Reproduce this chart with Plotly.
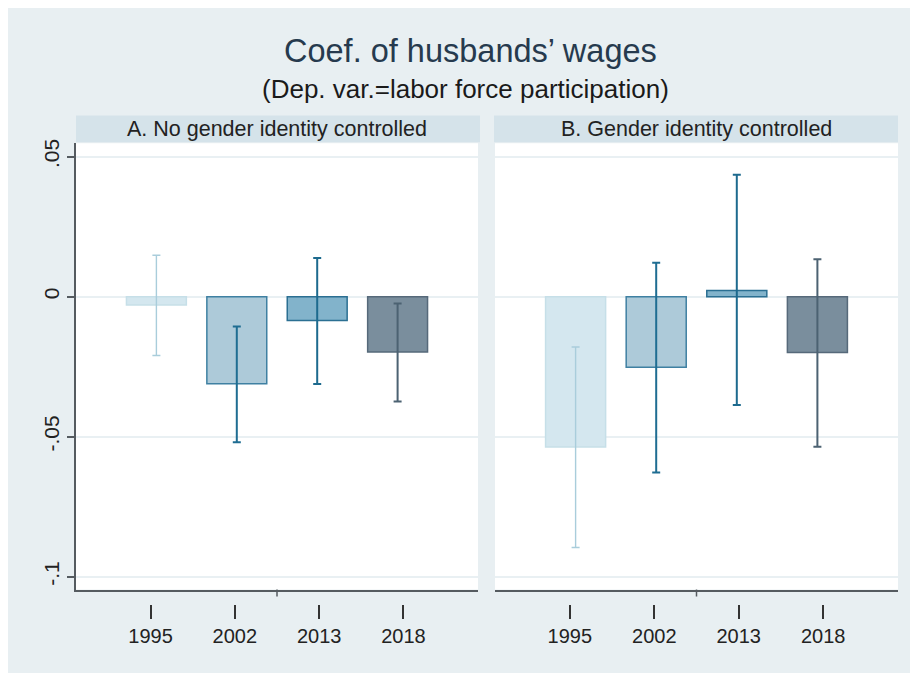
import plotly.graph_objects as go

# ---------------- data ----------------
years = ["1995", "2002", "2013", "2018"]

coef_A = [-0.0030, -0.0311, -0.0085, -0.0198]
lo_A = [-0.0210, -0.0520, -0.0312, -0.0374]
hi_A = [0.0148, -0.0107, 0.0138, -0.0024]

coef_B = [-0.0537, -0.0252, 0.0022, -0.0199]
lo_B = [-0.0896, -0.0628, -0.0387, -0.0536]
hi_B = [-0.0180, 0.0121, 0.0435, 0.0134]

y_tickvals = [0.05, 0, -0.05, -0.1]
y_ticktext = [".05", "0", "-.05", "-.1"]

panel_titles = ["A. No gender identity controlled", "B. Gender identity controlled"]
title_text = "Coef. of husbands\u2019 wages"
subtitle_text = "(Dep. var.=labor force participation)"

# ---------------- styles ----------------
W, H = 918, 673
OFF = 8  # page body margin
fill_cols = ["#d4e7ef", "#adcad9", "#82b3cb", "#7a8e9d"]
line_cols = ["#c6dfe8", "#3f80a2", "#2b6f92", "#56697a"]
err_cols = ["#a9cddb", "#1f6d92", "#1d6a8e", "#4c6272"]
err_thick = [1.4, 2, 2, 2]
bg_col = "#e8eff2"
strip_col = "#d5e3ea"
axis_col = "#555b60"
grid_col = "#e9f0f3"

def px_x(p):
    return (p - OFF) / W

def px_y(p):
    return 1 - (p - OFF) / H

plot_top, plot_bot = 140, 589
left_dom = [px_x(76), px_x(478)]
right_dom = [px_x(495), px_x(898)]
y_dom = [px_y(plot_bot), px_y(plot_top)]
label_pos = px_y(604)

fig = go.Figure()

panels = [
    (coef_A, lo_A, hi_A, "x", "y", "x3"),
    (coef_B, lo_B, hi_B, "x2", "y2", "x4"),
]
for coef, lo, hi, xa, ya, xl in panels:
    for i, yr in enumerate(years):
        fig.add_trace(go.Bar(
            x=[yr], y=[coef[i]], width=0.745,
            marker=dict(color=fill_cols[i], line=dict(color=line_cols[i], width=1.5)),
            error_y=dict(type="data", symmetric=False,
                         array=[hi[i] - coef[i]], arrayminus=[coef[i] - lo[i]],
                         color=err_cols[i], thickness=err_thick[i], width=4),
            xaxis=xa, yaxis=ya, showlegend=False, hoverinfo="skip",
        ))
    # invisible trace carrying the category labels on the offset label axis
    fig.add_trace(go.Scatter(
        x=years, y=coef, mode="markers", marker=dict(opacity=0),
        xaxis=xl, yaxis=ya, showlegend=False, hoverinfo="skip",
    ))

bar_x = dict(type="category", categoryarray=years, range=[-1, 4],
             showline=True, linecolor=axis_col, linewidth=1.5,
             showticklabels=False, ticks="", showgrid=False, zeroline=False,
             fixedrange=True)
lab_x = dict(type="category", categoryarray=years, range=[-0.885, 3.885],
             anchor="free", position=label_pos,
             showline=False, showgrid=False, zeroline=False,
             ticks="outside", ticklen=14, tickwidth=1.5, tickcolor="#333",
             tickfont=dict(size=20, color="#222"))

fig.update_layout(
    width=W, height=H,
    margin=dict(l=0, r=0, t=0, b=0),
    paper_bgcolor=bg_col,
    plot_bgcolor="white",
    barmode="overlay",
    font=dict(family="Liberation Sans, Arial, sans-serif", color="#222"),
    xaxis=dict(domain=left_dom, anchor="y", **bar_x),
    xaxis2=dict(domain=right_dom, anchor="y2", **bar_x),
    xaxis3=dict(overlaying="x", **lab_x),
    xaxis4=dict(overlaying="x2", **lab_x),
    yaxis=dict(domain=y_dom, anchor="x", range=[-0.1046, 0.0548],
               tickmode="array", tickvals=y_tickvals, ticktext=y_ticktext,
               tickangle=-90, ticks="outside", ticklen=7, tickwidth=1.5,
               tickcolor=axis_col, showline=True, linecolor=axis_col, linewidth=1.5,
               showgrid=True, gridcolor=grid_col, gridwidth=1.5, zeroline=False,
               tickfont=dict(size=21, color="#222")),
    yaxis2=dict(domain=y_dom, anchor="x2", matches="y",
                tickmode="array", tickvals=y_tickvals,
                showticklabels=False, ticks="", showline=False,
                showgrid=True, gridcolor=grid_col, gridwidth=1.5, zeroline=False),
)

shapes = [
    dict(type="rect", xref="paper", yref="paper", x0=px_x(76), x1=px_x(480),
         y0=px_y(139), y1=px_y(112), fillcolor=strip_col, line=dict(width=0), layer="below"),
    dict(type="rect", xref="paper", yref="paper", x0=px_x(494), x1=px_x(898),
         y0=px_y(139), y1=px_y(112), fillcolor=strip_col, line=dict(width=0), layer="below"),
    dict(type="line", xref="x domain", yref="y domain", x0=0.5, x1=0.5, y0=0,
         y1=-7 / (plot_bot - plot_top), line=dict(color=axis_col, width=1.5)),
    dict(type="line", xref="x2 domain", yref="y2 domain", x0=0.5, x1=0.5, y0=0,
         y1=-7 / (plot_bot - plot_top), line=dict(color=axis_col, width=1.5)),
]
fig.update_layout(shapes=shapes)

annotations = [
    dict(text=title_text, x=px_x(471), y=px_y(47), xref="paper", yref="paper",
         showarrow=False, xanchor="center", yanchor="middle",
         font=dict(size=32.5, color="#263a4e")),
    dict(text=subtitle_text, x=px_x(465), y=px_y(85), xref="paper", yref="paper",
         showarrow=False, xanchor="center", yanchor="middle",
         font=dict(size=26, color="#1a1a1a")),
    dict(text=panel_titles[0], x=px_x(277), y=px_y(126), xref="paper", yref="paper",
         showarrow=False, xanchor="center", yanchor="middle",
         font=dict(size=21.5, color="#222")),
    dict(text=panel_titles[1], x=px_x(696), y=px_y(126), xref="paper", yref="paper",
         showarrow=False, xanchor="center", yanchor="middle",
         font=dict(size=21.5, color="#222")),
]
fig.update_layout(annotations=annotations)

fig.write_html("out.html")
